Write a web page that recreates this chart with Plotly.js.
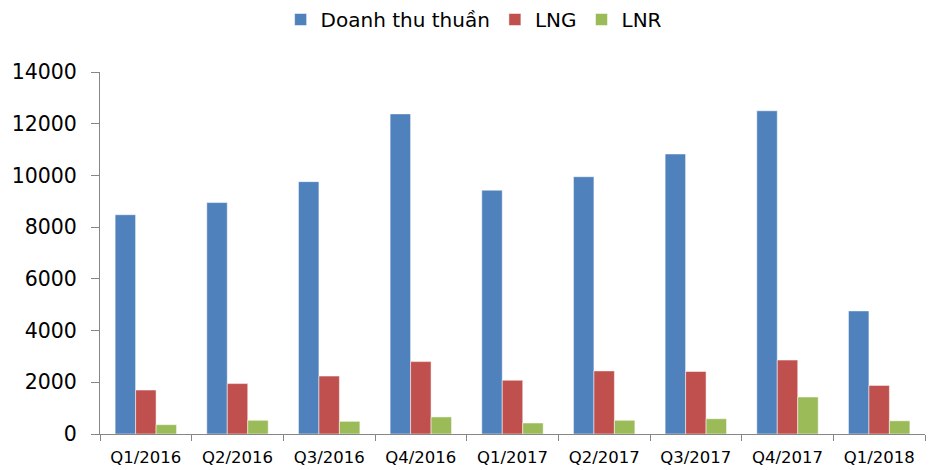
<!DOCTYPE html>
<html>
<head>
<meta charset="utf-8">
<script src="https://cdn.plot.ly/plotly-3.0.1.min.js"></script>
<style>html,body{margin:0;padding:0;background:#fff;}#chart{width:936px;height:470px;}</style>
</head>
<body>
<div id="chart"></div>
<script>
const categories = ["Q1/2016","Q2/2016","Q3/2016","Q4/2016","Q1/2017","Q2/2017","Q3/2017","Q4/2017","Q1/2018"];
const seriesNames = ["Doanh thu thuần","LNG","LNR"];
const doanhThu = [8480, 8950, 9760, 12380, 9430, 9950, 10830, 12500, 4760];
const lng = [1700, 1950, 2240, 2800, 2080, 2440, 2420, 2860, 1880];
const lnr = [360, 530, 490, 660, 425, 530, 590, 1430, 510];
const yTicks = [0, 2000, 4000, 6000, 8000, 10000, 12000, 14000];

const colors = ["#4F81BD", "#C0504D", "#9BBB59"];
const values = [doanhThu, lng, lnr];
const traces = values.map((v, i) => ({
  type: "bar",
  name: seriesNames[i],
  x: categories,
  y: v,
  marker: {color: colors[i], line: {color: "rgba(255,255,255,0.5)", width: 1}},
  hoverinfo: "skip"
}));

const layout = {
  width: 936, height: 470,
  margin: {l: 100, r: 11, t: 72, b: 36},
  paper_bgcolor: "#fff", plot_bgcolor: "#fff",
  font: {family: "DejaVu Sans, Verdana, sans-serif", color: "#000"},
  barmode: "group",
  bargap: 0.33,
  bargroupgap: 0,
  showlegend: true,
  legend: {
    orientation: "h", x: 0.506, xanchor: "center", xref: "container",
    y: 1, yanchor: "top", yref: "container",
    font: {size: 20, family: "DejaVu Sans, Verdana, sans-serif"},
    itemwidth: 30, tracegroupgap: 0
  },
  xaxis: {
    type: "category",
    showline: true, linecolor: "#868686", linewidth: 1,
    ticks: "outside", tickson: "boundaries", ticklen: 6, tickcolor: "#868686",
    tickfont: {size: 16.5},
    ticklabelstandoff: 8,
    showgrid: false, zeroline: false
  },
  yaxis: {
    range: [0, 14000],
    tickvals: yTicks,
    ticktext: yTicks.map(String),
    showline: true, linecolor: "#868686", linewidth: 1,
    ticks: "outside", ticklen: 8, tickcolor: "#868686",
    tickfont: {size: 20.5},
    ticklabelstandoff: 10,
    showgrid: false, zeroline: false
  }
};

Plotly.newPlot("chart", traces, layout, {displayModeBar: false, staticPlot: true});
</script>
</body>
</html>
